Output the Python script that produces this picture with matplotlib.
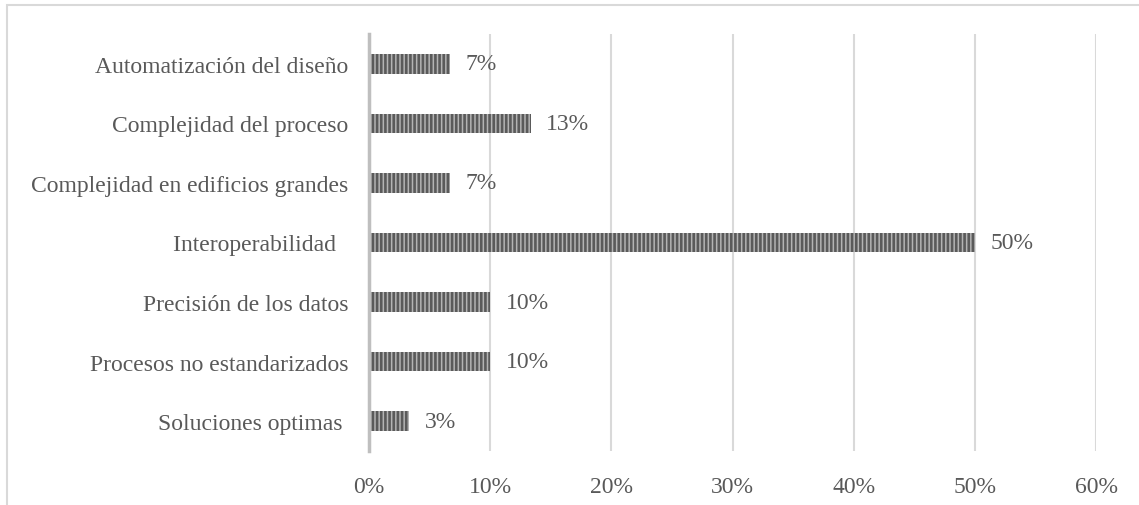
import matplotlib
matplotlib.use('Agg')
import matplotlib.pyplot as plt
from matplotlib.patches import Rectangle
from matplotlib.ticker import FuncFormatter

# categories listed bottom -> top
categorias = [
    'Soluciones optimas ',
    'Procesos no estandarizados',
    'Precisión de los datos',
    'Interoperabilidad  ',
    'Complejidad en edificios grandes',
    'Complejidad del proceso',
    'Automatización del diseño',
]
porcentajes = [3.33, 10.0, 10.0, 50.0, 6.67, 13.33, 6.67]
ticks_x = [0, 10, 20, 30, 40, 50, 60]

texto = '#595959'
plt.rcParams['font.family'] = ['Liberation Serif', 'DejaVu Serif']
plt.rcParams['hatch.linewidth'] = 1.9

fig = plt.figure(figsize=(11.39, 5.06), dpi=100)
ax = fig.add_axes([369 / 1139, 1 - 452 / 506, (1096 - 369) / 1139, (452 - 35) / 506])

# outer frame, cut off on the right and bottom like the source export
fig.patches.append(Rectangle((7 / 1139, -0.1), 1.2, 1 - 6 / 506 + 0.1, transform=fig.transFigure,
                             fill=False, edgecolor='#d9d9d9', linewidth=1.5))

pos = range(len(categorias))
ax.barh(pos, porcentajes, height=0.33, color='#b4b4b4', edgecolor='#5a5a5a',
        hatch='||||', linewidth=0, zorder=3)

for y, v in zip(pos, porcentajes):
    ax.text(v + 1.3, y, '{:.0f}%'.format(v), va='center', ha='left', fontsize=17, color=texto)

ax.set_xlim(0, 60)
ax.set_ylim(-0.5, len(categorias) - 0.5)
ax.set_xticks(ticks_x)
ax.xaxis.set_major_formatter(FuncFormatter(lambda v, p: '{:.0f}%'.format(v)))
ax.set_yticks(list(pos))
ax.set_yticklabels(categorias)
ax.tick_params(axis='both', length=0, labelsize=17, labelcolor=texto)
ax.tick_params(axis='x', pad=18)
ax.tick_params(axis='y', pad=15)

ax.grid(axis='x', color='#d9d9d9', linewidth=1.5, zorder=0)
for s in ['top', 'right', 'bottom']:
    ax.spines[s].set_visible(False)
ax.spines['left'].set_color('#bfbfbf')
ax.spines['left'].set_linewidth(2.5)
ax.spines['left'].set_zorder(4)

fig.savefig('out.png', dpi=100)
